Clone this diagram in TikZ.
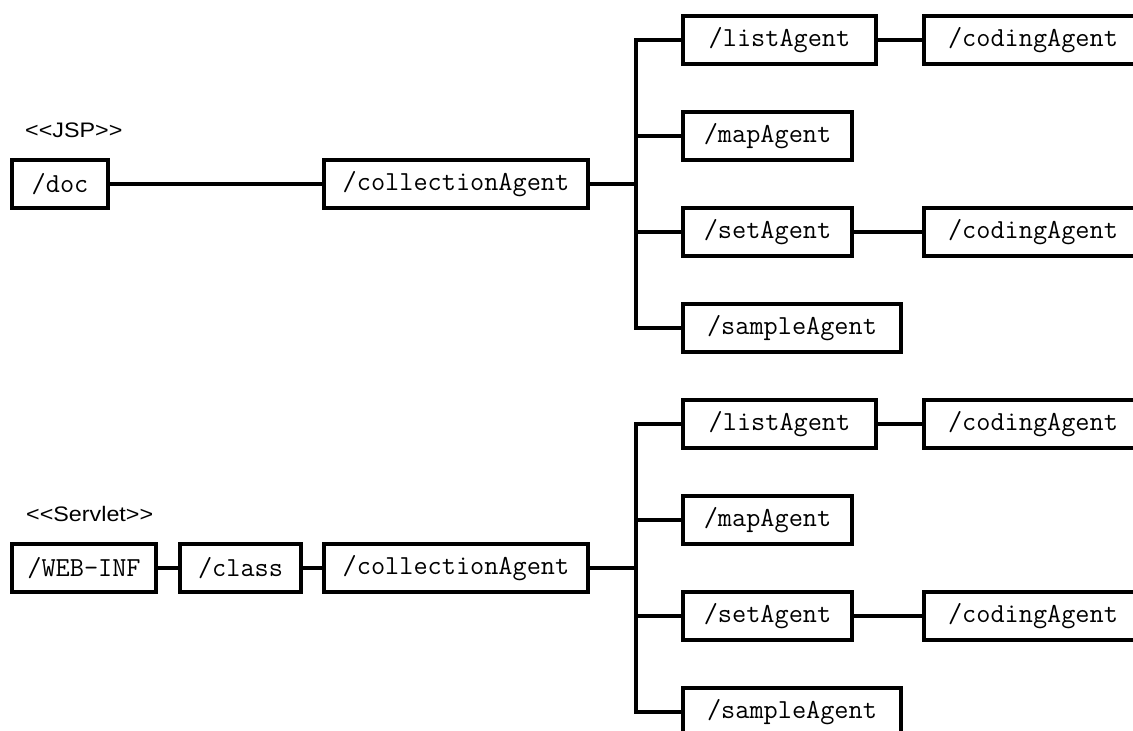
\documentclass[tikz,border=0pt]{standalone}
\usepackage{fontspec}
\setmainfont{Liberation Sans}
\begin{document}
\begin{tikzpicture}[x=1pt,y=-1pt,
  dir/.style={draw, line width=3.2pt, rectangle, inner sep=0pt,
    minimum height=48pt, font=\ttfamily\fontsize{27.5}{31}\selectfont},
  link/.style={line width=3.2pt},
  stereo/.style={anchor=base west, inner sep=0pt,
    font=\fontsize{21}{25}\selectfont}]
\useasboundingbox (0,0) rectangle (1133,731);
\clip (0,0) rectangle (1133,731);

% ---- JSP tree ----
\node[stereo] (jsp) at (25,137) {\scalebox{1.11}[1]{<{}<JSP>{}>}};
\node[dir, minimum width=96pt]  (doc)   at (60,184)    {/doc};
\node[dir, minimum width=264pt] (colA)  at (456,184)   {/collectionAgent};
\coordinate (trA) at (636,184);
\node[dir, minimum width=193pt] (listA) at (779.5,40)  {/listAgent};
\node[dir, minimum width=218pt] (codA1) at (1033,40)   {/codingAgent};
\node[dir, minimum width=169pt] (mapA)  at (767.5,136) {/mapAgent};
\node[dir, minimum width=169pt] (setA)  at (767.5,232) {/setAgent};
\node[dir, minimum width=218pt] (codA2) at (1033,232)  {/codingAgent};
\node[dir, minimum width=218pt] (smpA)  at (792,328)   {/sampleAgent};

\draw[link] (doc.east) -- (colA.west);
\draw[link] (colA.east) -- (trA);
\draw[link] (listA.west) -| (trA);
\draw[link] (smpA.west) -| (trA);
\draw[link] (mapA.west) -- (mapA.west -| trA);
\draw[link] (setA.west) -- (setA.west -| trA);
\draw[link] (listA.east) -- (codA1.west);
\draw[link] (setA.east) -- (codA2.west);

% ---- Servlet tree ----
\node[stereo] (srv) at (26,521) {\scalebox{1.11}[1]{<{}<Servlet>{}>}};
\node[dir, minimum width=144pt] (web)   at (84,568)    {/WEB-INF};
\node[dir, minimum width=121pt] (cls)   at (240.5,568) {/class};
\node[dir, minimum width=264pt] (colB)  at (456,568)   {/collectionAgent};
\coordinate (trB) at (636,568);
\node[dir, minimum width=193pt] (listB) at (779.5,424) {/listAgent};
\node[dir, minimum width=218pt] (codB1) at (1033,424)  {/codingAgent};
\node[dir, minimum width=169pt] (mapB)  at (767.5,520) {/mapAgent};
\node[dir, minimum width=169pt] (setB)  at (767.5,616) {/setAgent};
\node[dir, minimum width=218pt] (codB2) at (1033,616)  {/codingAgent};
\node[dir, minimum width=218pt] (smpB)  at (792,712)   {/sampleAgent};

\draw[link] (web.east) -- (cls.west);
\draw[link] (cls.east) -- (colB.west);
\draw[link] (colB.east) -- (trB);
\draw[link] (listB.west) -| (trB);
\draw[link] (smpB.west) -| (trB);
\draw[link] (mapB.west) -- (mapB.west -| trB);
\draw[link] (setB.west) -- (setB.west -| trB);
\draw[link] (listB.east) -- (codB1.west);
\draw[link] (setB.east) -- (codB2.west);
\end{tikzpicture}
\end{document}
